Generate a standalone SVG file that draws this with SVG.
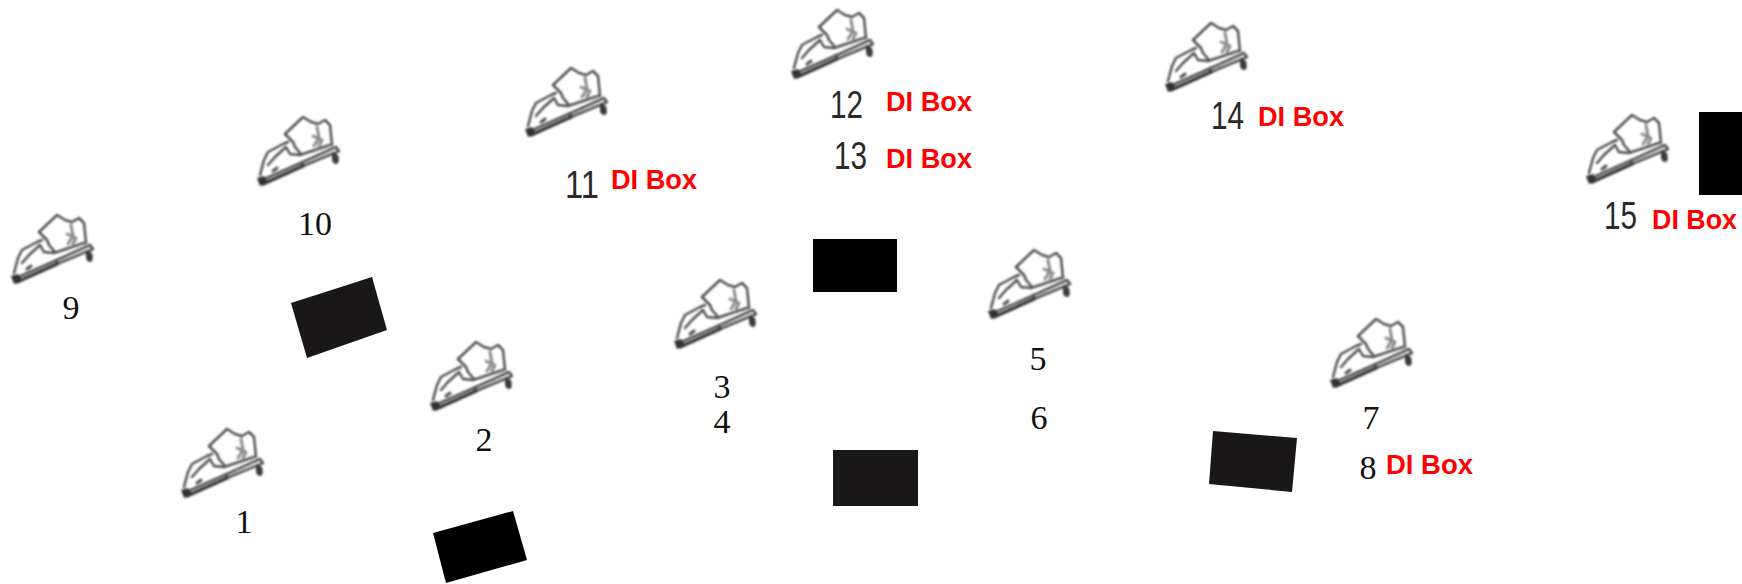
<svg xmlns="http://www.w3.org/2000/svg" width="1742" height="584" viewBox="0 0 1742 584">
<style>
.n{font-family:"Liberation Serif","Times New Roman",serif;font-size:34px;fill:#111;text-anchor:middle}
.c{font-family:"Liberation Sans",Arial,sans-serif;font-size:39px;fill:#2a2a2a}
.d{font-family:"Liberation Sans",Arial,sans-serif;font-size:28px;font-weight:bold;fill:#f00}
.h{fill:none;stroke:#505050;stroke-width:2.5;stroke-linejoin:round;stroke-linecap:round}
.k{fill:#1a1718}
.b{fill:#000}
</style>
<defs>
<filter id="soft" x="-10%" y="-10%" width="120%" height="120%"><feGaussianBlur stdDeviation="0.8"/></filter>
<g id="hand" filter="url(#soft)">
<path class="h" d="M1-7 L5-22 L9-30 L24-38 L29-40"/>
<path class="h" d="M26-48 L44-65 L52-60 L59-58 L66-62 L71-57 L73-37"/>
<path class="h" d="M26-48 L34-40 L36-35 L42-28"/>
<path class="h" d="M9-17 L16-25 L27-35 L31-28 L41-27 L71-37"/>
<path class="h" d="M58-55 L60-44 L55-36 M54-46 L63-42 L60-36" style="stroke:#8a8a8a;stroke-width:3"/>
<path class="h" d="M1-1 L44-20 L77-35 L80-31 L44-16 L43-20"/>
<path class="h" d="M4 2 L44-16" style="stroke:#333;stroke-width:3.5"/>
<path d="M-2-4 L5-6 L9 0 L1 4 Z" fill="#333"/>
<path class="h" d="M14-11 L18-14" style="stroke-width:3"/>
<path d="M73-30 L79-27 Q81-20 78-18 Q73-18 73-23 Z" fill="#3a3a3a"/>
</g>
</defs>
<g id="node-1"><use href="#hand" x="183" y="494"/><text class="n" x="244" y="533">1</text></g>
<g id="node-2"><use href="#hand" x="432" y="407"/><text class="n" x="484" y="451">2</text></g>
<g id="node-3"><use href="#hand" x="676" y="345"/><text class="n" x="722" y="398">3</text><text class="n" x="722" y="433">4</text></g>
<g id="node-5"><use href="#hand" x="990" y="315"/><text class="n" x="1038" y="370">5</text><text class="n" x="1039" y="429">6</text></g>
<g id="node-7"><use href="#hand" x="1332" y="384"/><text class="n" x="1371" y="429">7</text><text class="n" x="1368" y="479">8</text><text class="d" x="1386" y="474" textLength="87" lengthAdjust="spacingAndGlyphs">DI Box</text></g>
<g id="node-9"><use href="#hand" x="13" y="280"/><text class="n" x="71" y="319">9</text></g>
<g id="node-10"><use href="#hand" x="259" y="182"/><text class="n" x="315" y="235">10</text></g>
<g id="node-11"><use href="#hand" x="527" y="133"/><text class="c" x="565" y="198" textLength="34" lengthAdjust="spacingAndGlyphs">11</text><text class="d" x="611" y="189" textLength="86" lengthAdjust="spacingAndGlyphs">DI Box</text></g>
<g id="node-12"><use href="#hand" x="793" y="75"/><text class="c" x="830" y="118" textLength="33" lengthAdjust="spacingAndGlyphs">12</text><text class="d" x="886" y="111" textLength="86" lengthAdjust="spacingAndGlyphs">DI Box</text><text class="c" x="834" y="169" textLength="33" lengthAdjust="spacingAndGlyphs">13</text><text class="d" x="886" y="168" textLength="86" lengthAdjust="spacingAndGlyphs">DI Box</text></g>
<g id="node-14"><use href="#hand" x="1167" y="88"/><text class="c" x="1211" y="129" textLength="33" lengthAdjust="spacingAndGlyphs">14</text><text class="d" x="1258" y="126" textLength="86" lengthAdjust="spacingAndGlyphs">DI Box</text></g>
<g id="node-15"><use href="#hand" x="1588" y="180"/><text class="c" x="1604" y="229" textLength="33" lengthAdjust="spacingAndGlyphs">15</text><text class="d" x="1652" y="229" textLength="85" lengthAdjust="spacingAndGlyphs">DI Box</text></g>
<g id="box-a"><polygon class="k" points="291,303 372,277 387,330 307,358"/></g>
<g id="box-b"><polygon class="b" points="433,533 513,511 527,560 446,583"/></g>
<g id="box-c"><rect class="b" x="813" y="239" width="84" height="53"/></g>
<g id="box-d"><rect class="k" x="833" y="450" width="85" height="56"/></g>
<g id="box-e"><polygon class="k" points="1213,431 1297,438 1292,492 1209,484"/></g>
<g id="box-f"><rect class="b" x="1699" y="112" width="43" height="83"/></g>
</svg>
